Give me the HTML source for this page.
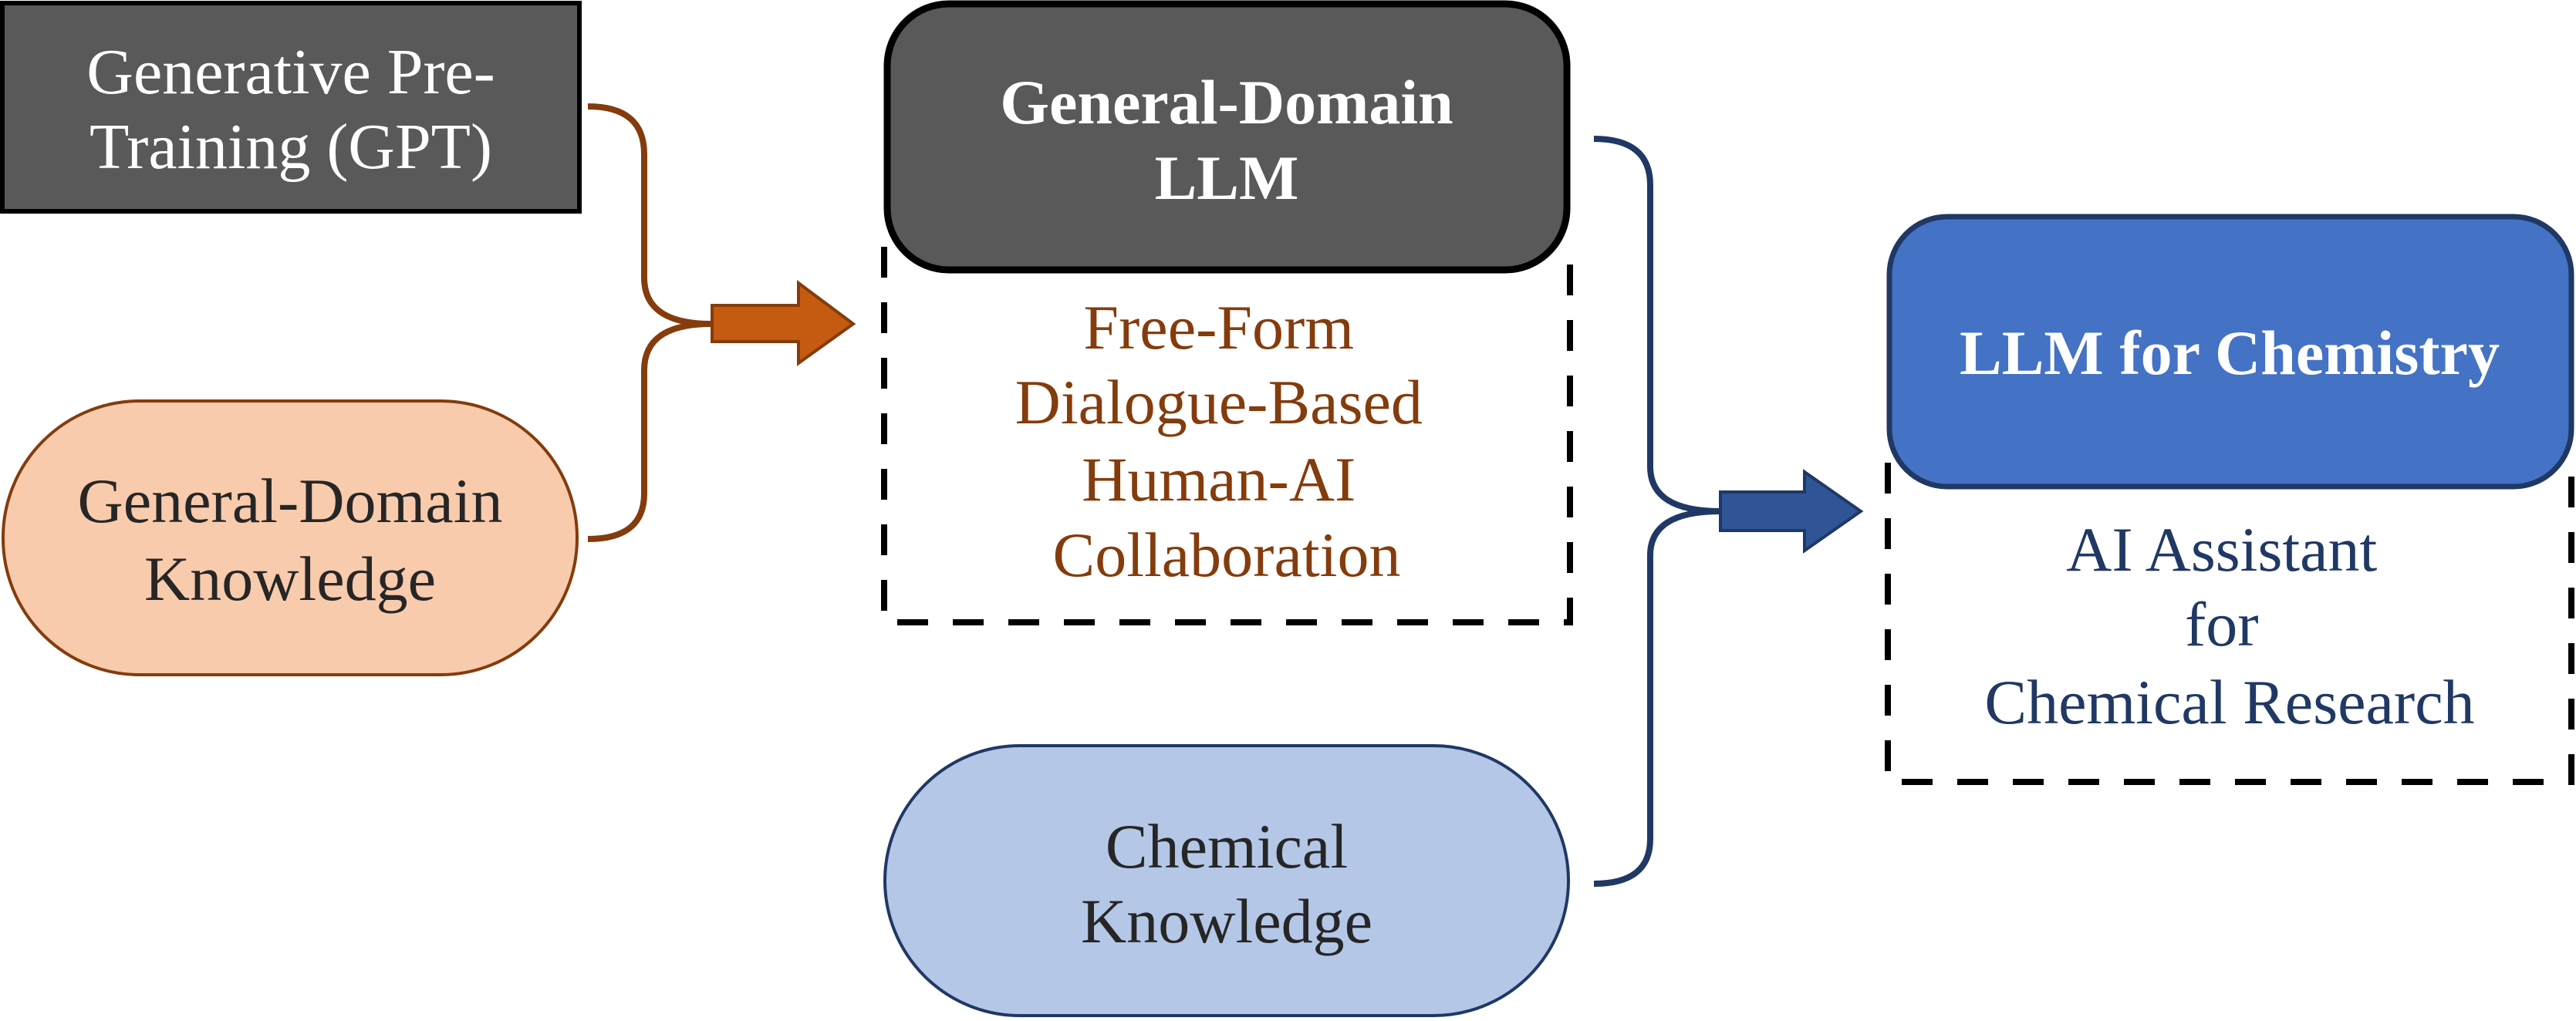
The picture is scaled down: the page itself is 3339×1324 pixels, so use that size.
<!DOCTYPE html>
<html><head><meta charset="utf-8"><style>html,body{margin:0;padding:0;background:#fff}svg{display:block}</style></head>
<body>
<svg width="3339" height="1324" viewBox="0 0 3339 1324" xmlns="http://www.w3.org/2000/svg" font-family="'Liberation Serif', serif">
<!-- GPT box -->
<rect x="3" y="4" width="748" height="270" fill="#595959" stroke="#000" stroke-width="6"/>
<text x="377" y="121" font-size="84" fill="#fff" text-anchor="middle">Generative Pre-</text>
<text x="377" y="218" font-size="84" fill="#fff" text-anchor="middle">Training (GPT)</text>
<!-- orange connector -->
<path d="M762 138 Q835 138 835 200 L835 360 Q835 420 922 420 M922 420 Q835 420 835 480 L835 640 Q835 699 762 699" fill="none" stroke="#843c0c" stroke-width="8"/>
<!-- orange arrow -->
<path d="M923 396 L1035 396 L1035 367 L1106 420 L1035 471 L1035 443 L923 443 Z" fill="#c55a11" stroke="#843c0c" stroke-width="4"/>
<!-- left stadium -->
<rect x="4" y="520" width="744" height="355" rx="177" fill="#f8cbad" stroke="#843c0c" stroke-width="4"/>
<text x="376" y="677" font-size="82" fill="#262626" text-anchor="middle">General-Domain</text>
<text x="376" y="778" font-size="82" fill="#262626" text-anchor="middle">Knowledge</text>
<!-- middle dashed box -->
<path d="M1146 320 L1146 807 L2035 807 L2035 320" fill="none" stroke="#000" stroke-width="8" stroke-dasharray="40 32"/>
<rect x="1150" y="5" width="881" height="345" rx="80" fill="#595959" stroke="#000" stroke-width="9"/>
<text x="1590" y="160" font-size="82" font-weight="bold" fill="#fff" text-anchor="middle">General-Domain</text>
<text x="1590" y="258" font-size="82" font-weight="bold" fill="#fff" text-anchor="middle">LLM</text>
<text fill="#843c0c" font-size="82" text-anchor="middle">
<tspan x="1590" y="452">Free-Form</tspan>
<tspan x="1590" y="549">Dialogue-Based</tspan>
<tspan x="1590" y="649">Human-AI</tspan>
<tspan x="1590" y="747">Collaboration</tspan>
</text>
<!-- chemical knowledge -->
<rect x="1147" y="967" width="886" height="350" rx="175" fill="#b4c7e7" stroke="#203864" stroke-width="4"/>
<text x="1590" y="1125" font-size="82" fill="#262626" text-anchor="middle">Chemical</text>
<text x="1590" y="1222" font-size="82" fill="#262626" text-anchor="middle">Knowledge</text>
<!-- blue connector -->
<path d="M2066 180 Q2139 180 2139 240 L2139 605 Q2139 663 2230 663 M2230 663 Q2139 663 2139 720 L2139 1088 Q2139 1146 2066 1146" fill="none" stroke="#203864" stroke-width="8"/>
<path d="M2230 638 L2339 638 L2339 612 L2412 663 L2339 714 L2339 688 L2230 688 Z" fill="#2f5597" stroke="#203864" stroke-width="4"/>
<!-- right dashed box -->
<path d="M2447 600 L2447 1014 L3333 1014 L3333 600" fill="none" stroke="#000" stroke-width="8" stroke-dasharray="40 32"/>
<rect x="2449" y="281" width="884" height="350" rx="75" fill="#4472c4" stroke="#203864" stroke-width="7"/>
<text x="2890" y="485" font-size="82" font-weight="bold" fill="#fff" text-anchor="middle">LLM for Chemistry</text>
<text fill="#203864" font-size="82" text-anchor="middle">
<tspan x="2890" y="740">AI Assistant</tspan>
<tspan x="2890" y="837">for</tspan>
<tspan x="2890" y="938">Chemical Research</tspan>
</text>
</svg>
</body></html>
